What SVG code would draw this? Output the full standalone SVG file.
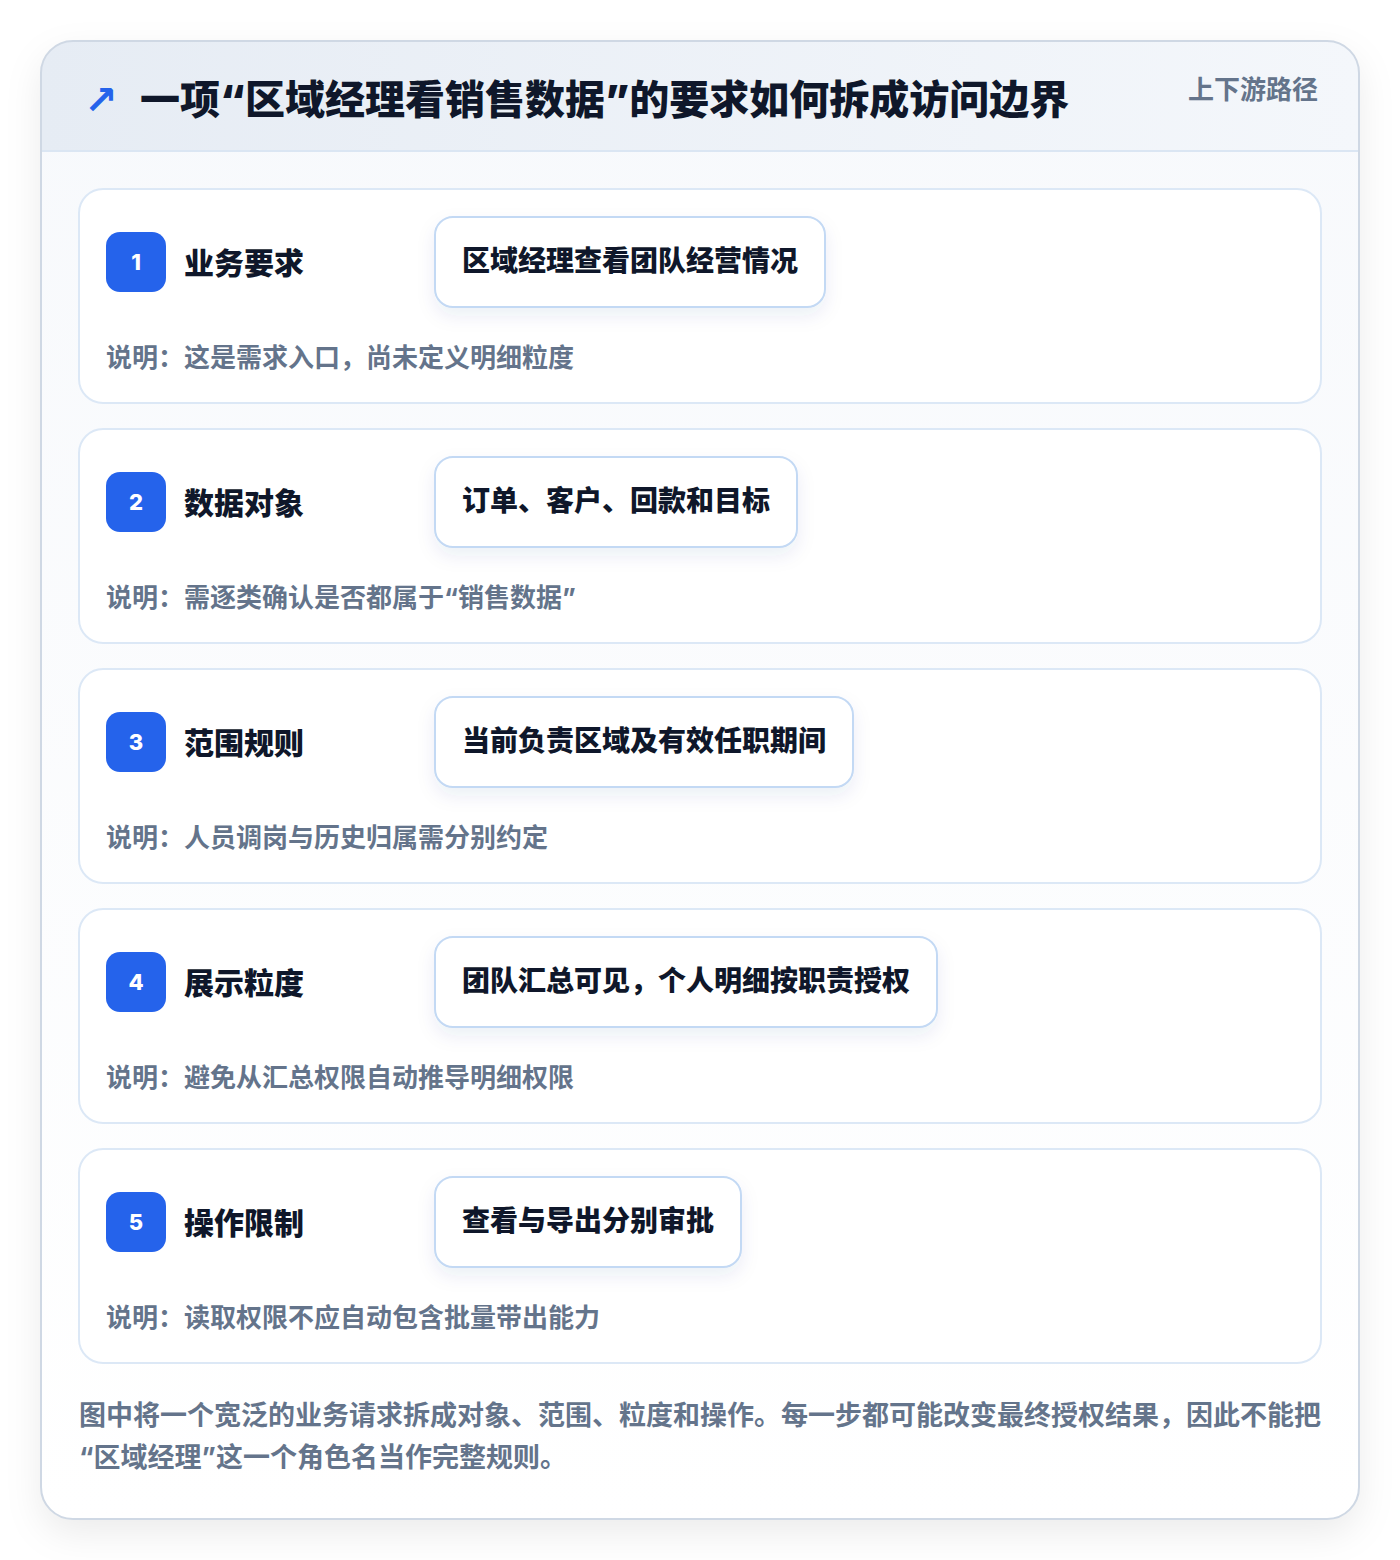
<svg xmlns="http://www.w3.org/2000/svg" width="1400" height="1560" viewBox="0 0 1400 1560">
<defs>
<linearGradient id="hdr" x1="0" y1="0" x2="1" y2="0">
<stop offset="0" stop-color="#e6ecf4"/>
<stop offset="1" stop-color="#f4f7fb"/>
</linearGradient>
<linearGradient id="body" x1="0" y1="0" x2="0" y2="1">
<stop offset="0" stop-color="#f7f9fc"/>
<stop offset="1" stop-color="#ffffff"/>
</linearGradient>
<filter id="outerShadow" x="-10%" y="-10%" width="120%" height="120%">
<feDropShadow dx="0" dy="14" stdDeviation="18" flood-color="#0f172a" flood-opacity="0.08"/>
</filter>
<filter id="pillShadow" x="-10%" y="-20%" width="120%" height="160%">
<feDropShadow dx="0" dy="8" stdDeviation="9" flood-color="#1e3a8a" flood-opacity="0.08"/>
</filter>
<clipPath id="cardClip"><rect x="41" y="41" width="1318" height="1478" rx="32"/></clipPath>
</defs>
<style>
text{font-family:Inter,"Noto Sans CJK SC",sans-serif;font-weight:700}
.title{font-size:40px;fill:#0f172a;font-weight:900}
.meta{font-size:26px;fill:#64748b}
.row{fill:#ffffff;stroke:#dce8f6;stroke-width:2}
.badge{fill:#2563eb}
.num{font-size:22px;fill:#ffffff;text-anchor:middle;font-weight:800}
.label{font-size:30px;fill:#0f172a;font-weight:900}
.pill{fill:#ffffff;stroke:#c3d9f4;stroke-width:2}
.ptext{font-size:28px;fill:#0f172a;font-weight:900}
.desc{font-size:26px;fill:#64748b}
.foot{font-size:27px;fill:#64748b}
</style>
<rect width="1400" height="1560" fill="#ffffff"/>
<g id="card">
<rect x="41" y="41" width="1318" height="1478" rx="32" fill="url(#body)" filter="url(#outerShadow)"/>
<g clip-path="url(#cardClip)">
<rect x="41" y="41" width="1318" height="110" fill="url(#hdr)"/>
<line x1="41" y1="151" x2="1359" y2="151" stroke="#dbe6f3" stroke-width="2"/>
</g>
<rect x="41" y="41" width="1318" height="1478" rx="32" fill="none" stroke="#cfd8e4" stroke-width="2"/>
</g>
<g id="header">
<text x="84" y="114" font-size="40" fill="#2563eb" style="font-family:'DejaVu Sans',sans-serif;font-weight:700">↗</text>
<text x="140" y="114" class="title">一项“区域经理看销售数据”的要求如何拆成访问边界</text>
<text x="1318" y="99" class="meta" text-anchor="end">上下游路径</text>
</g>
<g id="step1">
<rect x="79" y="189" width="1242" height="214" rx="24" class="row"/>
<rect x="106" y="232" width="60" height="60" rx="14" class="badge"/>
<text x="136" y="270" class="num">1</text>
<text x="184" y="274" class="label">业务要求</text>
<rect x="435" y="217" width="390" height="90" rx="18" class="pill" filter="url(#pillShadow)"/>
<text x="462" y="271" class="ptext">区域经理查看团队经营情况</text>
<text x="106" y="367" class="desc">说明：这是需求入口，尚未定义明细粒度</text>
</g>
<g id="step2">
<rect x="79" y="429" width="1242" height="214" rx="24" class="row"/>
<rect x="106" y="472" width="60" height="60" rx="14" class="badge"/>
<text x="136" y="510" class="num">2</text>
<text x="184" y="514" class="label">数据对象</text>
<rect x="435" y="457" width="362" height="90" rx="18" class="pill" filter="url(#pillShadow)"/>
<text x="462" y="511" class="ptext">订单、客户、回款和目标</text>
<text x="106" y="607" class="desc">说明：需逐类确认是否都属于“销售数据”</text>
</g>
<g id="step3">
<rect x="79" y="669" width="1242" height="214" rx="24" class="row"/>
<rect x="106" y="712" width="60" height="60" rx="14" class="badge"/>
<text x="136" y="750" class="num">3</text>
<text x="184" y="754" class="label">范围规则</text>
<rect x="435" y="697" width="418" height="90" rx="18" class="pill" filter="url(#pillShadow)"/>
<text x="462" y="751" class="ptext">当前负责区域及有效任职期间</text>
<text x="106" y="847" class="desc">说明：人员调岗与历史归属需分别约定</text>
</g>
<g id="step4">
<rect x="79" y="909" width="1242" height="214" rx="24" class="row"/>
<rect x="106" y="952" width="60" height="60" rx="14" class="badge"/>
<text x="136" y="990" class="num">4</text>
<text x="184" y="994" class="label">展示粒度</text>
<rect x="435" y="937" width="502" height="90" rx="18" class="pill" filter="url(#pillShadow)"/>
<text x="462" y="991" class="ptext">团队汇总可见，个人明细按职责授权</text>
<text x="106" y="1087" class="desc">说明：避免从汇总权限自动推导明细权限</text>
</g>
<g id="step5">
<rect x="79" y="1149" width="1242" height="214" rx="24" class="row"/>
<rect x="106" y="1192" width="60" height="60" rx="14" class="badge"/>
<text x="136" y="1230" class="num">5</text>
<text x="184" y="1234" class="label">操作限制</text>
<rect x="435" y="1177" width="306" height="90" rx="18" class="pill" filter="url(#pillShadow)"/>
<text x="462" y="1231" class="ptext">查看与导出分别审批</text>
<text x="106" y="1327" class="desc">说明：读取权限不应自动包含批量带出能力</text>
</g>
<g id="connectors"></g>
<g id="footer">
<text x="79" y="1425" class="foot">图中将一个宽泛的业务请求拆成对象、范围、粒度和操作。每一步都可能改变最终授权结果，因此不能把</text>
<text x="79" y="1467" class="foot">“区域经理”这一个角色名当作完整规则。</text>
</g>
</svg>
